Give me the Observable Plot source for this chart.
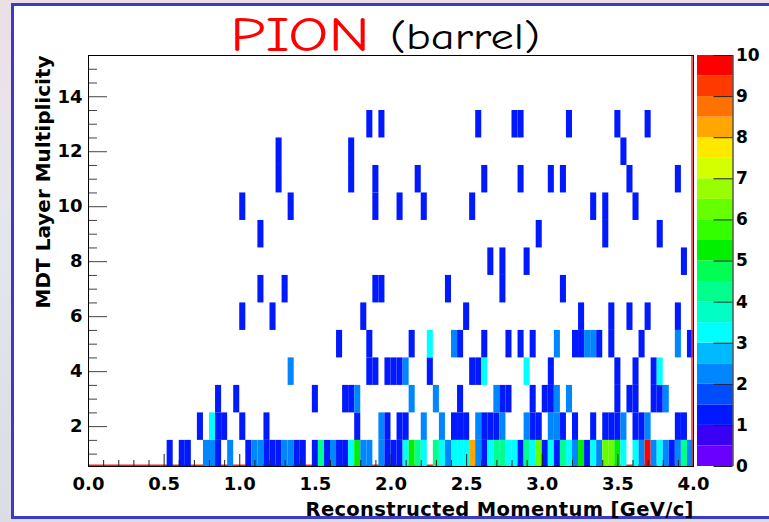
<!DOCTYPE html>
<html><head><meta charset="utf-8">
<script src="https://cdn.jsdelivr.net/npm/d3@7"></script>
<script src="https://cdn.jsdelivr.net/npm/@observablehq/plot@0.6"></script>
<style>
html,body{margin:0;padding:0;}
body{width:769px;height:522px;overflow:hidden;background:linear-gradient(180deg,#ecdfe6 0%,#e6e6ee 40%,#dcdce4 100%);position:relative;}
#panel{position:absolute;left:11px;top:3px;width:770px;height:516px;background:#fff;border:3px solid #3b3bc6;border-right:none;box-sizing:border-box;}
#chart,#bar,#ttl{position:absolute;top:0;}
#chart{left:0}
#bar{left:697px}
#ttl{left:0}
</style></head><body>
<div id="panel"></div>
<svg id="ttl" width="769" height="62" font-family="'Comic Sans MS','Comic Neue','DejaVu Sans',sans-serif">
  <text x="230" y="51" fill="#ff0000" font-size="49" textLength="140" lengthAdjust="spacingAndGlyphs">PION</text>
  <text x="390" y="49" fill="#000" font-size="36" textLength="150" lengthAdjust="spacingAndGlyphs">(barrel)</text>
</svg>
<div id="chart"></div>
<div id="bar"></div>
<script>
// ---- data: momentum bin index (bin width 0.04 GeV/c) and entries, per MDT layer multiplicity ----
const binWidth = 0.04;
const row1Bins = [13,15,16,19,20,21,23, 26,27,28,29,30,31,32,33,34,35, 37,38,39,40,41,42,43,44,45,46, 48,49,50,51,52,53,54,55, 57,58,59,60,61,62,63,64,65,66,67,68,69,70,71,72,73,74,75,76,77,78,79,80,81,82,83,84,85,86,87,88, 90,91,92,93,94,95,96,97,98,99];
const row1Counts = [1,1,1,2,2,1,2, 1,2,2,1,1,1,2,2,1,1, 1,4,1,2,1,1,3,5,2,2, 2,1,1,1,3,5,4,3, 4,3,2,3,3,3,8,2,1,3,4,4,3,3,1,4,3,6,1,3,1,4,3,2,5,1,3,2,6,6,5,3, 3,2,10,2,3,2,1,2,4,2];
const row2Bins = [18,20,21,22,25,29,44,48,49,51,52,55,58,60,61,62,64,65,66,67,68,72,73,74,76,77,78,80,83,85,86,87,88,90,91,92,97,98];
const row2Counts = [1,3,1,1,1,1,1,2,1,1,1,2,2,1,1,1,2,1,1,1,2,2,1,1,2,2,1,1,1,1,1,1,2,1,1,2,1,1];
const row3Bins = [21,24,37,42,43,44,53,57,61,67,68,69,73,75,76,77,79,87,89,90,93,94,95];
const row3Counts = [1,1,1,1,1,2,2,2,1,2,1,1,1,1,1,2,2,1,1,1,1,1,2];
const row4Bins = [33,46,47,49,50,51,52,56,63,64,65,72,76,87,90,93,94];
const row4Counts = [2,1,1,1,1,1,2,1,1,1,3,3,1,1,1,1,3];
const row5Bins = [41,46,53,56,60,61,65,69,71,73,77,80,81,82,83,84,86,91,97,99];
const row5Counts = [1,1,1,3,2,1,1,1,1,1,2,1,1,2,2,1,1,1,2,1];
const row6Bins = [25,30,45,62,81,86,89,92,97];
const row6Counts = [1,1,1,1,1,1,1,1,1];
const row7Bins = [28,32,47,48,59,68,78];
const row7Counts = [1,1,1,1,1,1,1];
const row8Bins = [66,68,72,98];
const row8Counts = [1,1,1,1];
const row9Bins = [28,74,85,94];
const row9Counts = [1,1,1,1];
const row10Bins = [25,33,47,51,55,63,83,85,90];
const row10Counts = [1,1,1,1,1,1,1,1,1];
const row11Bins = [31,43,47,54,65,71,76,78,89,97];
const row11Counts = [1,1,1,1,1,1,1,1,1,1];
const row12Bins = [31,43,88];
const row12Counts = [1,1,1];
const row13Bins = [46,48,64,70,71,79,87,92];
const row13Counts = [1,1,1,1,1,1,1,1];

// colour palette (20 contour levels, 0..10)
const levelThresholds = [0.5,1,1.5,2,2.5,3,3.5,4,4.5,5,5.5,6,6.5,7,7.5,8,8.5,9,9.5];
const paletteColors = ["#6a00ff","#3a00f4","#0019ff","#004cff","#0086ff","#00baff","#00ffff","#00ffc4","#00ff8c","#00ff55",
                       "#00f000","#33ff00","#66ff00","#99ff00","#d4ff00","#ffe800","#ffa600","#ff7200","#ff3a00","#ff0000"];
const xTickLabels = [0,0.5,1,1.5,2,2.5,3,3.5,4];
const yTickLabels = [2,4,6,8,10,12,14];
const zTickLabels = [0,1,2,3,4,5,6,7,8,9,10];
const xTitle = "Reconstructed Momentum [GeV/c]";
const yTitle = "MDT Layer Multiplicity";

// ---- assemble ----
const rows = [
  [1,row1Bins,row1Counts],[2,row2Bins,row2Counts],[3,row3Bins,row3Counts],[4,row4Bins,row4Counts],
  [5,row5Bins,row5Counts],[6,row6Bins,row6Counts],[7,row7Bins,row7Counts],[8,row8Bins,row8Counts],
  [9,row9Bins,row9Counts],[10,row10Bins,row10Counts],[11,row11Bins,row11Counts],[12,row12Bins,row12Counts],
  [13,row13Bins,row13Counts]
];
const cells = rows.flatMap(([m, bins, counts]) => bins.map((b, k) => ({
  x1: b * binWidth, x2: (b + 1) * binWidth, y1: m - 0.5, y2: m + 0.5, n: counts[k]
})));
const levels = [0, ...levelThresholds].map((lo, k, a) => ({lo, hi: k < a.length - 1 ? a[k + 1] : 10}));

const color = {type: "threshold", domain: levelThresholds, range: paletteColors};
const font = {background: "transparent", fontFamily: "'DejaVu Sans', sans-serif", fontWeight: "bold", fontSize: "17px", color: "#000", overflow: "visible"};

const W = 769, H = 522, ML = 88, MR = 76, MT = 55, MB = 56;
const FW = W - ML - MR, FH = H - MT - MB;

const chart = Plot.plot({
  width: W, height: H, marginLeft: ML, marginRight: MR, marginTop: MT, marginBottom: MB,
  style: font,
  x: {domain: [0, 4]},
  y: {domain: [0.55, 15.5]},
  color,
  marks: [
    Plot.ruleY([0.55], {stroke: "#ff2020", strokeWidth: 2, dy: -1}),
    Plot.rect(cells, {x1: "x1", x2: "x2", y1: "y1", y2: "y2", fill: "n", clip: true}),
    Plot.ruleX([4], {stroke: "#ff2020", strokeWidth: 1.5, dx: -1.5}),
    Plot.tickX(d3.range(1, 40).filter(k => k % 5 !== 0).map(k => k / 10), {x: d => d, insetTop: FH - 6, stroke: "#222"}),
    Plot.tickX(xTickLabels, {x: d => d, insetTop: FH - 12, stroke: "#222"}),
    Plot.tickY(d3.range(2, 31).filter(k => k % 4 !== 0).map(k => k / 2), {y: d => d, insetRight: FW - 9, stroke: "#444"}),
    Plot.tickY(yTickLabels, {y: d => d, insetRight: FW - 19, stroke: "#444"}),
    Plot.frame({stroke: "#000"}),
    Plot.axisX(xTickLabels, {tickSize: 0, tickPadding: 11, tickFormat: d3.format(".1f"), label: null, fontSize: 18}),
    Plot.axisY(yTickLabels, {tickSize: 0, tickPadding: 6, label: null, fontSize: 18}),
    Plot.text([xTitle], {frameAnchor: "bottom-right", textAnchor: "end", dy: 49, fontSize: 19.5}),
    Plot.text([yTitle], {frameAnchor: "top-left", textAnchor: "end", rotate: -90, dx: -53, fontSize: 20})
  ]
});
document.getElementById("chart").appendChild(chart);
// stretch the axis titles to the reference's wide lettering
d3.select(chart).selectAll("text").each(function () {
  if (this.textContent === xTitle) d3.select(this).attr("textLength", 388).attr("lengthAdjust", "spacing");
  if (this.textContent === yTitle) d3.select(this).attr("textLength", 253).attr("lengthAdjust", "spacing");
});

const bar = Plot.plot({
  width: 72, height: H, marginLeft: 0, marginRight: 36.5, marginTop: MT, marginBottom: MB,
  style: font,
  x: {domain: [0, 1], axis: null},
  y: {domain: [0, 10], axis: null},
  color,
  marks: [
    Plot.rect(levels, {x1: 0, x2: 1, y1: "lo", y2: "hi", fill: "lo"}),
    Plot.ruleX([1], {stroke: "#000"}),
    Plot.tickY(zTickLabels, {y: d => d, insetLeft: 35.5 - 19, stroke: "#222"}),
    Plot.axisY(zTickLabels, {anchor: "right", tickSize: 0, tickPadding: 3, label: null, fontSize: 17})
  ]
});
document.getElementById("bar").appendChild(bar);
</script>
</body></html>
